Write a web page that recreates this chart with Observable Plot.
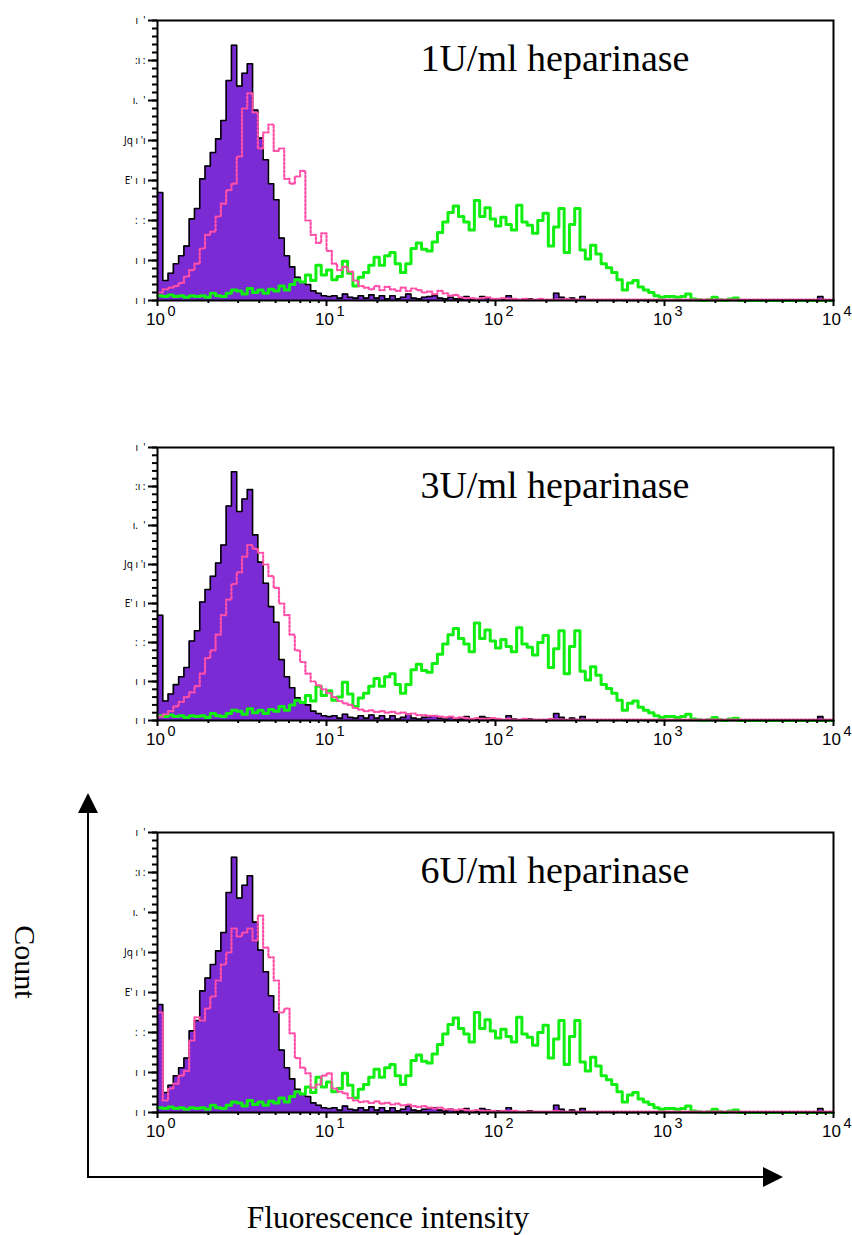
<!DOCTYPE html>
<html><head><meta charset="utf-8">
<script src="https://cdn.jsdelivr.net/npm/d3@7"></script>
<script src="https://cdn.jsdelivr.net/npm/@observablehq/plot@0.6"></script>
<style>
body{margin:0;background:#fff;}
#page{position:relative;width:852px;height:1235px;overflow:hidden;background:#fff;}
.panel{position:absolute;left:0;}
#overlay{position:absolute;left:0;top:0;}
</style></head><body><div id="page"></div>
<script>
// ---- data (counts per log channel, 32 channels per decade, 10^0 .. 10^4) ----
const channelsPerDecade = 32;
const panelTitles = ["1U/ml heparinase", "3U/ml heparinase", "6U/ml heparinase"];
const xDecades = [0, 1, 2, 3, 4];
const yTicks = [0, 5, 10, 15, 20, 25, 30, 35];
const yTickLabels = ["ı\u00a0\u00a0ı", "ı\u00a0\u00a0ı", ":\u00a0\u00a0:", "E'\u00a0ı\u00a0\u00a0ı", "Jq\u00a0ı\u00a0'ı", "ı.\u00a0\u00a0'", ":ı\u00a0:", "ı\u00a0\u00a0'"];

// control (filled purple)
const control = [
 13.5, 2.5, 3.4, 4.6, 5.6, 6.8, 10.2, 11.5, 15.2, 16.8,
 18.5, 20.2, 22.5, 27.5, 31.9, 26.8, 28.4, 29.6, 23.8, 20.3,
 17.6, 14.6, 12.6, 7.8, 5.6, 4.2, 2.9, 2.3, 2.0, 1.2,
 0.9, 0.6, 0.5, 0.6, 0.3, 0.8, 0.4, 0.3, 0.6, 0.3,
 0.7, 0.3, 0.6, 0.2, 0.6, 0.2, 0.4, 0.8, 0.3, 0.2,
 0.4, 0.5, 0.6, 0.3, 0.2, 0.4, 0.2, 0.2, 0.5, 0.2,
 0.1, 0.5, 0.3, 0.1, 0.2, 0.1, 0.6, 0.2, 0.1, 0.1,
 0.2, 0.1, 0.1, 0.1, 0.1, 0.9, 0.4, 0.1, 0.3, 0.1,
 0.5, 0.1, 0.1, 0.1, 0.1, 0.1, 0, 0.1, 0, 0,
 0, 0.1, 0, 0, 0, 0, 0, 0, 0, 0,
 0, 0, 0, 0, 0, 0, 0, 0, 0, 0,
 0, 0, 0, 0, 0, 0, 0, 0, 0, 0,
 0, 0, 0, 0, 0, 0.5, 0, 0
];
// untreated, stained (green)
const untreated = [
 0.6, 0.5, 0.7, 0.5, 0.6, 0.4, 0.6, 0.5, 0.6, 0.4,
 0.9, 0.6, 0.5, 0.9, 1.3, 1.2, 0.8, 1.5, 1.0, 1.3,
 0.9, 1.4, 1.2, 1.8, 1.3, 2.0, 2.6, 2.3, 3.2, 2.5,
 4.4, 3.2, 3.8, 2.6, 3.0, 4.9, 3.4, 1.8, 2.9, 3.5,
 4.4, 5.4, 4.4, 5.6, 6.0, 4.6, 3.5, 4.6, 6.5, 7.2,
 6.4, 6.2, 7.3, 8.5, 9.8, 11.0, 11.8, 10.5, 9.8, 8.8,
 12.5, 10.5, 11.6, 10.2, 9.3, 10.4, 9.5, 8.8, 11.9, 9.8,
 9.4, 8.4, 10.0, 10.9, 6.8, 9.2, 11.5, 6.0, 9.5, 11.5,
 6.3, 5.2, 6.9, 5.8, 4.6, 4.1, 3.5, 2.6, 1.3, 2.2,
 2.5, 1.7, 1.3, 1.0, 0.6, 0.4, 0.5, 0.5, 0.4, 0.5,
 0.8, 0.2, 0.1, 0, 0.1, 0.4, 0.1, 0, 0.2, 0.3,
 0, 0, 0, 0, 0, 0, 0, 0, 0, 0,
 0, 0, 0, 0, 0, 0, 0, 0
];
// heparinase treated (pink dotted), one per panel
const heparinase1U = [
 1.0, 1.4, 1.6, 1.8, 2.2, 3.0, 3.8, 4.6, 6.5, 8.2,
 8.6, 10.5, 12.1, 13.8, 14.6, 18.0, 24.0, 25.9, 23.5, 19.0,
 21.0, 22.0, 18.7, 19.0, 15.2, 14.6, 15.5, 16.2, 10.0, 8.2,
 7.2, 8.4, 6.2, 4.6, 3.8, 4.2, 3.6, 2.5, 1.8, 1.6,
 1.4, 1.8, 1.3, 1.7, 1.4, 1.2, 1.6, 1.2, 1.5, 1.3,
 1.0, 1.1, 0.8, 1.2, 0.9, 0.6, 0.7, 0.4, 0.3, 0.3,
 0.2, 0.3, 0.4, 0.2, 0.2, 0.3, 0.2, 0.2, 0.1, 0.2,
 0.1, 0.1, 0.2, 0.1, 0.1, 0.1, 0.1, 0.2, 0.1, 0.1,
 0.1, 0.1, 0.1, 0.1, 0.1, 0.1, 0.1, 0.1, 0.1, 0.1,
 0.1, 0.1, 0.1, 0.1, 0.1, 0.1, 0.1, 0.1, 0.1, 0.1,
 0.1, 0.1, 0.1, 0.1, 0.1, 0.1, 0.1, 0.1, 0.1, 0.1,
 0.1, 0.1, 0.1, 0.1, 0.1, 0.1, 0.1, 0.1, 0.1, 0.1,
 0.1, 0.1, 0.1, 0.1, 0.1, 0.1, 0.1, 0.1
];
const heparinase3U = [
 0.5, 0.8, 1.2, 1.8, 2.4, 3.0, 3.6, 4.4, 6.0, 8.0,
 9.0, 11.0, 13.5, 15.5, 17.5, 19.0, 21.0, 22.5, 22.0, 21.5,
 20.0, 18.5, 17.0, 15.0, 13.5, 11.0, 9.0, 7.5, 6.0, 5.0,
 4.5, 4.0, 3.5, 3.0, 2.5, 2.2, 2.0, 1.6, 1.4, 1.2,
 1.3, 1.1, 1.2, 1.0, 1.1, 0.9, 1.0, 0.8, 0.9, 0.7,
 0.7, 0.6, 0.6, 0.5, 0.4, 0.5, 0.3, 0.4, 0.3, 0.2,
 0.3, 0.2, 0.2, 0.3, 0.2, 0.1, 0.2, 0.1, 0.1, 0.2,
 0.1, 0.1, 0.1, 0.1, 0.2, 0.1, 0.1, 0.1, 0.1, 0.1,
 0.1, 0.1, 0.1, 0.1, 0.1, 0.1, 0.1, 0.1, 0.1, 0.1,
 0.1, 0.1, 0.1, 0.1, 0.1, 0.1, 0.1, 0.1, 0.1, 0.1,
 0.1, 0.1, 0.1, 0.1, 0.1, 0.1, 0.1, 0.1, 0.1, 0.1,
 0.1, 0.1, 0.1, 0.1, 0.1, 0.1, 0.1, 0.1, 0.1, 0.1,
 0.1, 0.1, 0.1, 0.1, 0.1, 0.1, 0.1, 0.1
];
const heparinase6U = [
 12.5, 1.5, 3.0, 3.6, 4.6, 5.2, 9.0, 11.9, 11.5, 13.0,
 14.5, 16.5, 18.5, 20.0, 23.0, 22.0, 22.5, 23.0, 21.5, 24.6,
 20.6, 19.4, 16.5, 12.5, 13.0, 9.9, 6.8, 5.6, 4.9, 3.1,
 3.5, 4.6, 4.9, 3.0, 2.6, 2.4, 1.8, 1.5, 1.3, 1.4,
 1.2, 1.4, 1.1, 1.2, 1.0, 1.1, 0.9, 1.0, 0.8, 0.7,
 0.8, 0.6, 0.5, 0.6, 0.4, 0.4, 0.3, 0.4, 0.3, 0.2,
 0.3, 0.2, 0.2, 0.2, 0.1, 0.2, 0.1, 0.2, 0.1, 0.1,
 0.1, 0.1, 0.1, 0.1, 0.1, 0.2, 0.1, 0.1, 0.1, 0.1,
 0.1, 0.1, 0.1, 0.1, 0.1, 0.1, 0.1, 0.1, 0.1, 0.1,
 0.1, 0.1, 0.1, 0.1, 0.1, 0.1, 0.1, 0.1, 0.1, 0.1,
 0.1, 0.1, 0.1, 0.1, 0.1, 0.1, 0.1, 0.1, 0.1, 0.1,
 0.1, 0.1, 0.1, 0.1, 0.1, 0.1, 0.1, 0.1, 0.1, 0.1,
 0.1, 0.1, 0.1, 0.1, 0.1, 0.1, 0.1, 0.1
];
const treatedSeries = [heparinase1U, heparinase3U, heparinase6U];

// ---- layout ----
const panelTops = [20, 447, 832];
const panelHeights = [280, 273, 280];
const serif = "'Liberation Serif','Times New Roman',serif";
const sans = "'Liberation Sans',Arial,Helvetica,sans-serif";
const plotW = 852 - 157 - 19;

function toRows(values) {
  const rows = values.map((v, i) => ({x: Math.pow(10, i / channelsPerDecade), v}));
  rows.push({x: Math.pow(10, values.length / channelsPerDecade), v: values[values.length - 1]});
  return rows;
}
const minorX = [];
for (const d of [0, 1, 2, 3]) for (let k = 2; k <= 9; k++) minorX.push(k * Math.pow(10, d));
const majorX = xDecades.map(d => Math.pow(10, d));
const minorY = d3.range(0, 36);
const page = document.getElementById("page");

// ---- overall axis arrows and labels ----
const svg = d3.select(page).append("svg").attr("id", "overlay").attr("width", 852).attr("height", 1235);
svg.append("line").attr("x1", 88).attr("y1", 1177).attr("x2", 88).attr("y2", 808).attr("stroke", "#000").attr("stroke-width", 2);
svg.append("polygon").attr("points", "88,793 78,813 98,813").attr("fill", "#000");
svg.append("line").attr("x1", 87).attr("y1", 1177).attr("x2", 768).attr("y2", 1177).attr("stroke", "#000").attr("stroke-width", 2);
svg.append("polygon").attr("points", "783,1177 763,1167 763,1187").attr("fill", "#000");
svg.append("text").attr("transform", "translate(25,962) rotate(90)").attr("text-anchor", "middle").attr("dominant-baseline", "central")
  .style("font-family", serif).style("font-size", "30px").text("Count");
svg.append("text").attr("x", 388).attr("y", 1228).attr("text-anchor", "middle")
  .style("font-family", serif).style("font-size", "31.5px").text("Fluorescence intensity");

panelTitles.forEach((title, p) => {
  const mt = 20, mb = 45, ph = panelHeights[p];
  const base = {
    width: 852, height: mt + ph + mb,
    marginLeft: 157, marginRight: 19, marginTop: mt, marginBottom: mb,
    x: {type: "log", domain: [1, 1e4], axis: null},
    y: {domain: [0, 35], axis: null},
    style: {background: "transparent", overflow: "visible", color: "#000"}
  };
  // layer 1: the histograms
  const dataChart = Plot.plot({...base, marks: [
    Plot.areaY(toRows(control), {x: "x", y: "v", curve: "step-after", fill: "#7A2BD3"}),
    Plot.lineY(toRows(control), {x: "x", y: "v", curve: "step-after", stroke: "#000", strokeWidth: 1.6}),
    Plot.lineY(toRows(untreated), {x: "x", y: "v", curve: "step-after", stroke: "#11ee11", strokeWidth: 3}),
    Plot.lineY(toRows(treatedSeries[p]), {x: "x", y: "v", curve: "step-after", stroke: "#ff4fa8", strokeWidth: 2.2, strokeDasharray: "2,2"})
  ]});
  // layer 2: frame, ticks and texts
  const axisChart = Plot.plot({...base, marks: [
    Plot.text([title], {text: d => d, frameAnchor: "top-right", textAnchor: "end", lineAnchor: "middle", dx: -144, dy: 38, fontSize: 38, fontFamily: serif, fill: "#000"}),
    Plot.text(yTicks, {y: d => d, text: d => yTickLabels[yTicks.indexOf(d)], frameAnchor: "left", textAnchor: "end", dx: -12, fontSize: 10, fill: "#000"}),
    Plot.text(xDecades, {x: d => Math.pow(10, d), text: () => "10", frameAnchor: "bottom", lineAnchor: "middle", dy: 19, dx: -2, fontSize: 17, fontFamily: sans, fill: "#000"}),
    Plot.text(xDecades, {x: d => Math.pow(10, d), text: d => String(d), frameAnchor: "bottom", lineAnchor: "middle", dy: 11, dx: 10, textAnchor: "start", fontSize: 14.5, fontFamily: sans, fill: "#000"}),
    Plot.frame({stroke: "#000", strokeWidth: 2}),
    Plot.tickY(minorY, {y: d => d, insetRight: plotW - 5, dx: -5, stroke: "#000", strokeWidth: 2}),
    Plot.tickY(yTicks, {y: d => d, insetRight: plotW - 9, dx: -9, stroke: "#000", strokeWidth: 2}),
    Plot.tickX(minorX, {x: d => d, insetTop: ph - 3, dy: 3, stroke: "#000", strokeWidth: 2}),
    Plot.tickX(majorX, {x: d => d, insetTop: ph - 6, dy: 6, stroke: "#000", strokeWidth: 2})
  ]});
  for (const c of [dataChart, axisChart]) {
    c.classList.add("panel");
    c.style.top = (panelTops[p] - mt) + "px";
    page.appendChild(c);
  }
});
</script></body></html>
